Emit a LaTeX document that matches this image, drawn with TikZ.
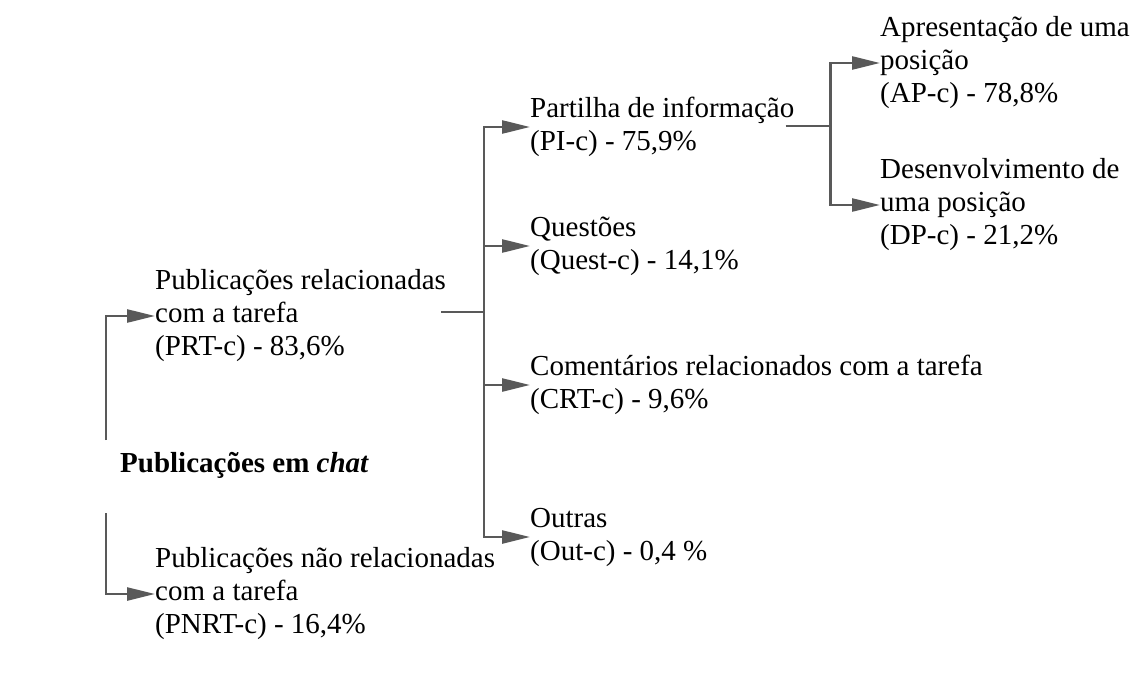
\documentclass[tikz,border=0pt]{standalone}
\usepackage{fontspec}
\setmainfont{Liberation Serif}
\usetikzlibrary{arrows.meta}

\begin{document}
\begin{tikzpicture}[x=1pt,y=-1pt,
  lbl/.style={anchor=west,align=left,inner sep=0pt,font=\fontsize{29}{33}\selectfont},
  link/.style={draw=black!65,line width=2.5pt},
  arr/.style={link,-{Triangle[length=28pt,width=13pt]}}]
\useasboundingbox (0,0) rectangle (1134,698);
\node[lbl] (root) at (120,465) {\textbf{Publicações em \textit{chat}}};
\node[lbl] (prt) at (155,316) {Publicações relacionadas\\com a tarefa\\(PRT-c) - 83,6\%};
\node[lbl] (pnrt) at (155,594) {Publicações não relacionadas\\com a tarefa\\(PNRT-c) - 16,4\%};
\node[lbl] (pi) at (530,127) {Partilha de informação\\(PI-c) - 75,9\%};
\node[lbl] (quest) at (530,246) {Questões\\(Quest-c) - 14,1\%};
\node[lbl] (crt) at (530,385) {Comentários relacionados com a tarefa\\(CRT-c) - 9,6\%};
\node[lbl] (outc) at (530,537) {Outras\\(Out-c) - 0,4 \%};
\node[lbl] (ap) at (880,63) {Apresentação de uma\\posição\\(AP-c) - 78,8\%};
\node[lbl] (dp) at (880,205) {Desenvolvimento de\\uma posição\\(DP-c) - 21,2\%};
% left fork
\coordinate (rootup) at (106,440);
\coordinate (rootdn) at (106,513);
\draw[arr] (rootup) |- (prt.west);
\draw[arr] (rootdn) |- (pnrt.west);
% middle fork
\draw[link] ([xshift=-5pt,yshift=4pt]prt.east) -- ++(43,0) coordinate (fork1);
\draw[arr] (fork1) |- (pi.west);
\draw[arr] (fork1) |- (quest.west);
\draw[arr] (fork1) |- (crt.west);
\draw[arr] (fork1) |- (outc.west);
% right fork
\draw[link] ([xshift=-9pt,yshift=1pt]pi.east) -- ++(45,0) coordinate (fork2);
\draw[arr] (fork2) |- (ap.west);
\draw[arr] (fork2) |- (dp.west);
\end{tikzpicture}
\end{document}
